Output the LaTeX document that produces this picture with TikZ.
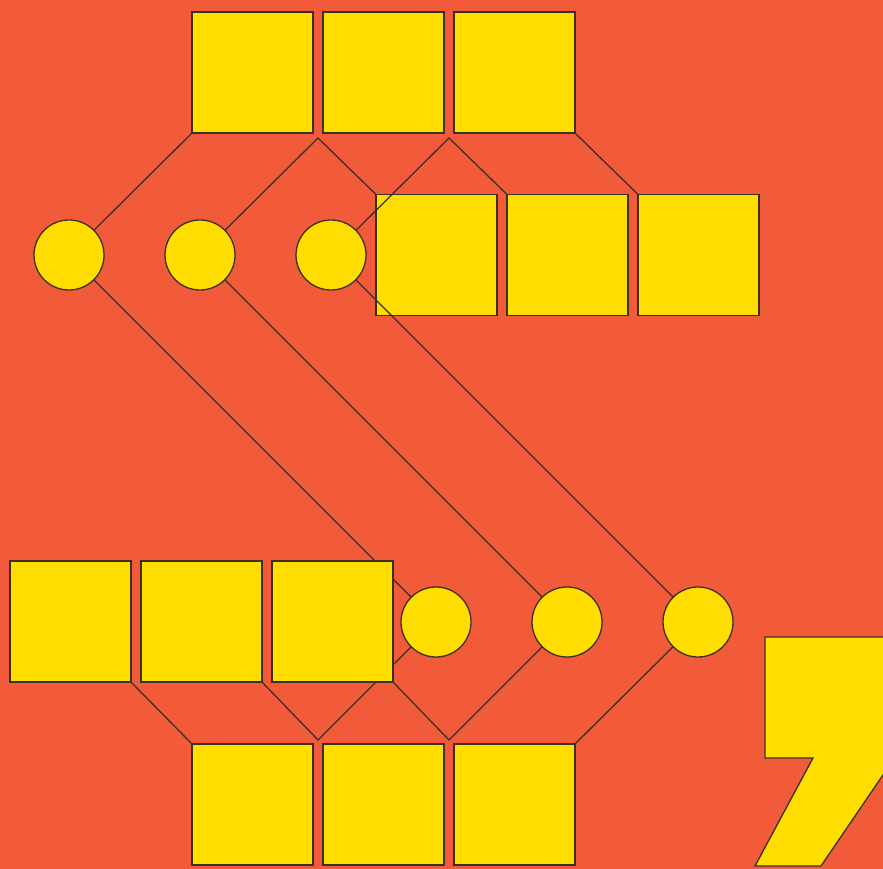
\documentclass[tikz,border=0pt]{standalone}
\usepackage{tikz}
\usetikzlibrary{positioning, calc}
\definecolor{bgorange}{HTML}{F15B3A}
\definecolor{tileyellow}{HTML}{FFDD00}
\definecolor{edgedark}{HTML}{3A3026}
\pgfdeclarelayer{back}
\pgfdeclarelayer{wires}
\pgfsetlayers{back,wires,main}
\tikzset{
  % Tiles and dots
  tile/.style={rectangle, draw=edgedark, fill=tileyellow, line width=1.1pt, minimum size=3.63cm, inner sep=0pt, outer sep=0pt},
  dot/.style={circle, draw=edgedark, fill=tileyellow, line width=1.1pt, minimum size=2.1cm, inner sep=0pt, outer sep=0pt},
  % Connectors
  link/.style={draw=edgedark, line width=1.1pt},
}

\begin{document}
\begin{tikzpicture}[x=0.03cm, y=-0.03cm, node distance=0.3cm]
    \useasboundingbox (0,0) rectangle (883,869);

    % Background and middle row (lines run over it)
    \begin{pgfonlayer}{back}
      \fill[bgorange] (0,0) rectangle (883,869);
      \node[tile] (mid1) at (436.5,255) {};
      \node[tile, right=of mid1] (mid2) {};
      \node[tile, right=of mid2] (mid3) {};
    \end{pgfonlayer}

    % Top row
    \node[tile] (top1) at (252.5,72.5) {};
    \node[tile, right=of top1] (top2) {};
    \node[tile, right=of top2] (top3) {};

    % Upper dots
    \node[dot] (c1) at (69,255) {};
    \node[dot, right=1.83cm of c1] (c2) {};
    \node[dot, right=1.83cm of c2] (c3) {};

    % Lower left row
    \node[tile] (low1) at (70.5,621.5) {};
    \node[tile, right=of low1] (low2) {};
    \node[tile, right=of low2] (low3) {};

    % Lower dots
    \node[dot] (b1) at (436,622) {};
    \node[dot, right=1.83cm of b1] (b2) {};
    \node[dot, right=1.83cm of b2] (b3) {};

    % Bottom row
    \node[tile] (bot1) at (252.5,804.5) {};
    \node[tile, right=of bot1] (bot2) {};
    \node[tile, right=of bot2] (bot3) {};

    % Junctions
    \coordinate (jt1) at ($(top1.south east)!0.5!(top2.south west)+(0,5)$);
    \coordinate (jt2) at ($(top2.south east)!0.5!(top3.south west)+(0,5)$);
    \coordinate (jb1) at ($(bot1.north east)!0.5!(bot2.north west)+(0,-4)$);
    \coordinate (jb2) at ($(bot2.north east)!0.5!(bot3.north west)+(0,-4)$);

    % === Links ===
    \begin{pgfonlayer}{wires}
      \draw[link] (top1.south west) -- (c1.center);
      \draw[link] (c2.center) -- (jt1) -- (mid1.north west);
      \draw[link] (c3.center) -- (jt2) -- (mid2.north west);
      \draw[link] (top3.south east) -- (mid3.north west);

      \draw[link] (c1.center) -- (b1.center);
      \draw[link] (c2.center) -- (b2.center);
      \draw[link] (c3.center) -- (b3.center);

      \draw[link] (low1.south east) -- (bot1.north west);
      \draw[link] (low2.south east) -- (jb1) -- (b1.center);
      \draw[link] (low3.south east) -- (jb2) -- (b2.center);
      \draw[link] (b3.center) -- (bot3.north east);
    \end{pgfonlayer}

    % Comma
    \begin{scope}
      \clip (0,0) rectangle (883,869);
      \filldraw[fill=tileyellow, draw=edgedark, line width=1.1pt]
        (765,637) -- (900,637) -- (900,750) -- (821,866) -- (755,866)
        -- (813,758) -- (765,758) -- cycle;
    \end{scope}
\end{tikzpicture}
\end{document}
